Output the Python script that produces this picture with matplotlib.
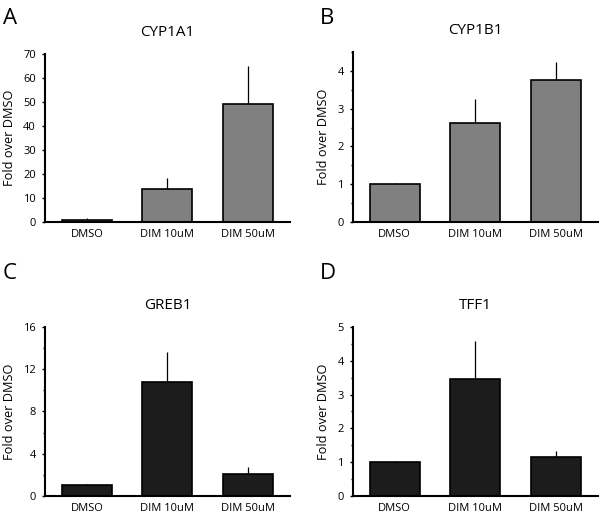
import matplotlib
matplotlib.use("Agg")
import matplotlib.pyplot as plt
from matplotlib.ticker import MultipleLocator

plt.rcParams['font.family'] = ['Open Sans', 'DejaVu Sans']

categories = ["DMSO", "DIM 10uM", "DIM 50uM"]

cyp1a1_vals = [1.0, 13.8, 49.0]
cyp1a1_err = [0.5, 4.7, 16.0]
cyp1b1_vals = [1.0, 2.62, 3.77]
cyp1b1_err = [0.03, 0.63, 0.46]
greb1_vals = [1.0, 10.8, 2.1]
greb1_err = [0.15, 2.8, 0.6]
tff1_vals = [1.0, 3.45, 1.15]
tff1_err = [0.03, 1.15, 0.18]

panels = [
    ("A", "CYP1A1", cyp1a1_vals, cyp1a1_err, "#808080", (0.075, 0.569, 0.408, 0.326), 70, 10, None),
    ("B", "CYP1B1", cyp1b1_vals, cyp1b1_err, "#808080", (0.588, 0.569, 0.408, 0.330), 4.5, 1, 0.5),
    ("C", "GREB1", greb1_vals, greb1_err, "#1c1c1c", (0.075, 0.037, 0.408, 0.328), 16, 4, 2),
    ("D", "TFF1", tff1_vals, tff1_err, "#1c1c1c", (0.588, 0.037, 0.408, 0.328), 5, 1, 0.5),
]

fig = plt.figure(figsize=(6.0, 5.15), dpi=100)

for letter, title, vals, errs, color, rect, ymax, major, minor in panels:
    ax = fig.add_axes(rect)
    x = list(range(len(categories)))
    ax.bar(x, vals, width=0.62, color=color, edgecolor="black", linewidth=1.2, zorder=2)
    ax.errorbar(x, vals, yerr=[[0] * len(errs), errs], fmt="none", ecolor="black",
                elinewidth=0.9, capsize=0, zorder=1)
    ax.set_xlim(-0.52, 2.52)
    ax.set_ylim(0, ymax)
    ax.yaxis.set_major_locator(MultipleLocator(major))
    if minor:
        ax.yaxis.set_minor_locator(MultipleLocator(minor))
    ax.set_xticks(x)
    ax.set_xticklabels(categories, fontsize=8)
    ax.tick_params(axis="x", length=0, pad=5)
    ax.tick_params(axis="y", which="major", length=2.5, width=1, labelsize=8, pad=4)
    ax.tick_params(axis="y", which="minor", length=1.5, width=1)
    for s in ("top", "right"):
        ax.spines[s].set_visible(False)
    for s in ("left", "bottom"):
        ax.spines[s].set_linewidth(1.5)
    ax.set_ylabel("Fold over DMSO", fontsize=9.2, labelpad=5)
    ax.set_title(title, fontsize=11, pad=13)
    ax.patch.set_visible(False)

fig.text(0.005, 0.965, "A", fontsize=16, ha="left", va="center")
fig.text(0.533, 0.965, "B", fontsize=16, ha="left", va="center")
fig.text(0.005, 0.468, "C", fontsize=16, ha="left", va="center")
fig.text(0.533, 0.468, "D", fontsize=16, ha="left", va="center")

fig.savefig("out.png", dpi=100)
